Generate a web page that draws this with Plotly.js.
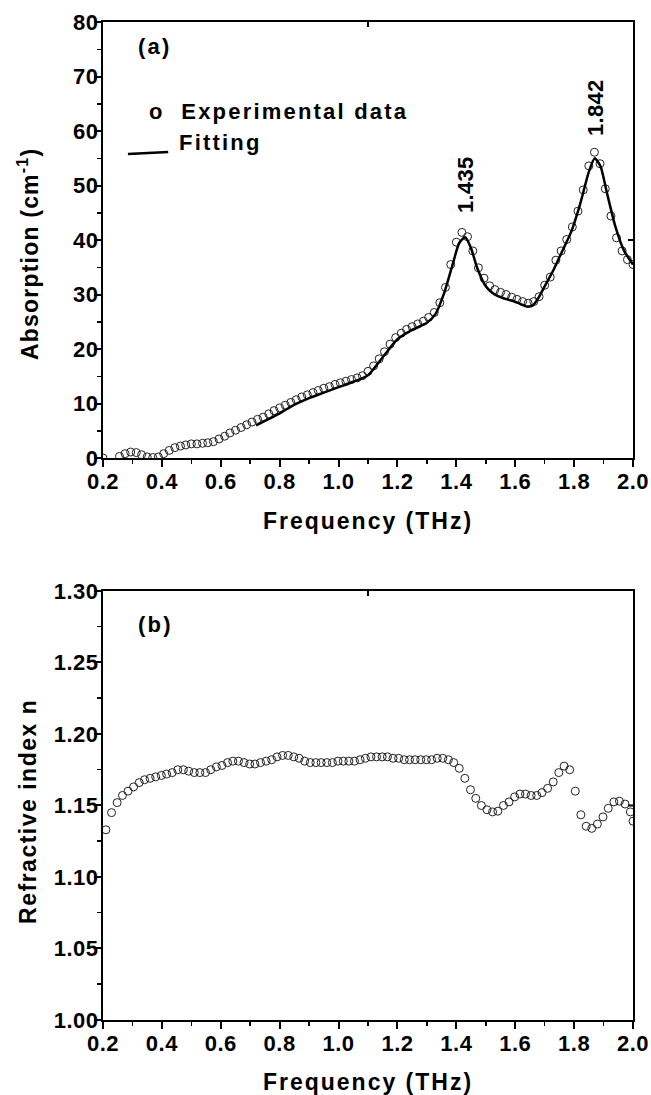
<!DOCTYPE html>
<html>
<head>
<meta charset="utf-8">
<script src="https://cdn.plot.ly/plotly-3.0.1.min.js"></script>
<style>
html,body{margin:0;padding:0;background:#fff;}
#chart{width:651px;height:1095px;}
.xtick text, .x2tick text, .ytick text, .y2tick text {letter-spacing:0.5px;}
.xtitle, .x2title {letter-spacing:2px;}
.annotation-text {letter-spacing:2.2px;}
.annotation-text[data-unformatted="1.435"], .annotation-text[data-unformatted="1.842"] {letter-spacing:0.3px;}
.annotation-text[data-unformatted^="Absorption"] {letter-spacing:1.2px;}
.annotation-text[data-unformatted^="Refractive"] {letter-spacing:1.5px;}
</style>
</head>
<body>
<div id="chart"></div>
<script>
// ---- Panel (a): absorption ----
const freqA = [0.200,0.219,0.238,0.256,0.275,0.294,0.313,0.331,0.350,0.369,0.388,0.406,0.425,0.444,0.463,0.481,0.500,0.519,0.538,0.556,0.575,0.594,0.613,0.631,0.650,0.669,0.688,0.706,0.725,0.744,0.763,0.781,0.800,0.819,0.838,0.856,0.875,0.894,0.913,0.931,0.950,0.969,0.988,1.006,1.025,1.044,1.063,1.081,1.100,1.119,1.138,1.156,1.175,1.194,1.213,1.231,1.250,1.269,1.288,1.306,1.325,1.344,1.363,1.381,1.400,1.419,1.438,1.456,1.475,1.494,1.513,1.531,1.550,1.569,1.588,1.606,1.625,1.644,1.663,1.681,1.700,1.719,1.738,1.756,1.775,1.794,1.813,1.831,1.850,1.869,1.888,1.906,1.925,1.944,1.963,1.981,2.000];
const absorption = [0.0,-1.0,-1.0,0.3,0.8,1.1,1.0,0.6,0.2,0.1,0.2,0.8,1.4,1.9,2.2,2.4,2.6,2.6,2.7,2.8,3.0,3.5,4.0,4.6,5.1,5.6,6.1,6.6,7.1,7.5,8.1,8.7,9.2,9.7,10.2,10.7,11.2,11.6,12.0,12.4,12.8,13.1,13.5,13.8,14.1,14.4,14.7,15.1,15.9,16.9,18.2,19.5,20.9,22.1,22.9,23.6,24.1,24.6,25.1,25.8,26.7,28.5,31.3,35.5,39.6,41.4,40.6,38.0,34.9,33.0,31.6,30.9,30.4,30.0,29.5,29.1,28.7,28.4,28.7,29.6,31.7,33.2,36.3,38.0,40.1,42.4,45.3,49.2,53.6,56.1,54.0,49.4,44.4,40.4,38.0,36.4,35.5];

const fitFreq = [0.72,0.75,0.80,0.85,0.90,0.95,1.00,1.05,1.10,1.15,1.20,1.25,1.30,1.33,1.36,1.39,1.41,1.43,1.45,1.47,1.50,1.53,1.56,1.60,1.64,1.66,1.68,1.70,1.73,1.76,1.79,1.82,1.85,1.87,1.89,1.91,1.94,1.97,2.00];
const fitAbs  = [6.0,6.8,8.2,9.8,11.0,12.0,13.0,14.0,15.2,18.5,21.8,23.5,24.8,26.5,30.5,36.0,39.5,40.5,38.5,35.0,31.5,30.0,29.3,28.7,27.8,28.0,29.5,31.5,34.5,38.0,41.5,46.5,52.5,55.0,53.5,49.0,42.5,38.0,35.5];

// ---- Panel (b): refractive index ----
const freqB = [0.210,0.229,0.248,0.266,0.285,0.304,0.323,0.341,0.360,0.379,0.398,0.416,0.435,0.454,0.473,0.491,0.510,0.529,0.548,0.566,0.585,0.604,0.623,0.641,0.660,0.679,0.698,0.716,0.735,0.754,0.773,0.791,0.810,0.829,0.848,0.866,0.885,0.904,0.923,0.941,0.960,0.979,0.998,1.016,1.035,1.054,1.073,1.091,1.110,1.129,1.148,1.166,1.185,1.204,1.223,1.241,1.260,1.279,1.298,1.316,1.335,1.354,1.373,1.391,1.410,1.429,1.448,1.466,1.485,1.504,1.523,1.541,1.560,1.579,1.598,1.616,1.635,1.654,1.673,1.691,1.710,1.729,1.748,1.766,1.785,1.804,1.823,1.841,1.860,1.879,1.898,1.916,1.935,1.954,1.973,1.991,2.000];
const refIndex = [1.133,1.145,1.152,1.157,1.160,1.163,1.166,1.168,1.169,1.170,1.171,1.172,1.173,1.175,1.175,1.174,1.173,1.173,1.173,1.175,1.177,1.178,1.180,1.181,1.181,1.180,1.179,1.179,1.180,1.181,1.182,1.184,1.185,1.185,1.184,1.183,1.181,1.180,1.180,1.180,1.180,1.180,1.181,1.181,1.181,1.181,1.182,1.183,1.184,1.184,1.184,1.184,1.183,1.183,1.182,1.182,1.182,1.182,1.182,1.182,1.183,1.183,1.182,1.180,1.176,1.169,1.161,1.155,1.150,1.147,1.1455,1.146,1.150,1.1525,1.156,1.158,1.158,1.157,1.157,1.159,1.162,1.1665,1.173,1.1775,1.175,1.160,1.1435,1.1355,1.134,1.137,1.142,1.148,1.1525,1.153,1.151,1.1455,1.139];

const xTickVals = [0.2,0.4,0.6,0.8,1.0,1.2,1.4,1.6,1.8,2.0];
const xTickText = ["0.2","0.4","0.6","0.8","1.0","1.2","1.4","1.6","1.8","2.0"];
const peakLabels = ["1.435","1.842"];
const peakPos = [[1.433, 41.4],[1.875, 56.1]];
const yTitleA = "Absorption (cm<sup>-1</sup>)";
const yTitleB = "Refractive index n";

const FONT = "Liberation Sans, Arial, sans-serif";
const tickFont = {family: FONT, size: 22, color: "#000", weight: "bold"};
const titleFont = {family: FONT, size: 23, color: "#000", weight: "bold"};
const annFont = {family: FONT, size: 22, color: "#000", weight: "bold"};
const markerStyle = {symbol: "circle-open", size: 8, color: "#222", line: {width: 1, color: "#222"}};

const traces = [
  {x: freqA, y: absorption, xaxis: "x", yaxis: "y", mode: "markers", marker: markerStyle, showlegend: false, cliponaxis: true},
  {x: fitFreq, y: fitAbs, xaxis: "x", yaxis: "y", mode: "lines", line: {color: "#000", width: 2.5, shape: "spline", smoothing: 0.6}, showlegend: false},
  {x: freqB, y: refIndex, xaxis: "x2", yaxis: "y2", mode: "markers", marker: markerStyle, showlegend: false, cliponaxis: true}
];

function xAxis(anchor) {
  return {
    anchor: anchor, domain: [0, 1], range: [0.2, 2.0], autorange: false,
    tickmode: "array", tickvals: xTickVals, ticktext: xTickText,
    ticks: "outside", ticklen: 7, tickwidth: 2, tickcolor: "#000",
    ticklabelstandoff: -4,
    minor: {dtick: 0.1, tick0: 0.2, ticks: "outside", ticklen: 4, tickwidth: 1.5, tickcolor: "#000"},
    showline: true, linewidth: 2, linecolor: "#000", mirror: true,
    showgrid: false, zeroline: false, tickfont: tickFont,
    title: {text: "Frequency (THz)", font: titleFont, standoff: 19}
  };
}

function yAxisCommon() {
  return {
    ticks: "outside", ticklen: 7, tickwidth: 2, tickcolor: "#000",
    ticklabelstandoff: -9,
    showline: true, linewidth: 2, linecolor: "#000", mirror: true,
    showgrid: false, zeroline: false, tickfont: tickFont
  };
}

const layout = {
  width: 651, height: 1095,
  margin: {l: 103, r: 18, t: 22, b: 75},
  paper_bgcolor: "#fff", plot_bgcolor: "#fff",
  showlegend: false,
  xaxis: xAxis("y"),
  xaxis2: xAxis("y2"),
  yaxis: Object.assign(yAxisCommon(), {
    anchor: "x", domain: [0.5631, 1], range: [0, 80], autorange: false,
    dtick: 10, tick0: 0,
    minor: {dtick: 5, ticks: "outside", ticklen: 4, tickwidth: 1.5, tickcolor: "#000"}
  }),
  yaxis2: Object.assign(yAxisCommon(), {
    anchor: "x2", domain: [0, 0.4299], range: [1.0, 1.3], autorange: false,
    dtick: 0.05, tick0: 1.0, tickformat: ".2f",
    minor: {dtick: 0.025, ticks: "outside", ticklen: 4, tickwidth: 1.5, tickcolor: "#000"}
  }),
  annotations: [
    {xref: "x domain", yref: "y domain", x: -0.1415, y: 0.468, text: yTitleA, showarrow: false, textangle: -90, xanchor: "center", yanchor: "middle", font: titleFont},
    {xref: "x2 domain", yref: "y2 domain", x: -0.1415, y: 0.485, text: yTitleB, showarrow: false, textangle: -90, xanchor: "center", yanchor: "middle", font: titleFont},
    {xref: "x domain", yref: "y domain", x: 0.062, y: 0.943, text: "(a)", showarrow: false, xanchor: "left", yanchor: "middle", align: "left", font: annFont},
    {xref: "x domain", yref: "y domain", x: 0.083, y: 0.794, text: "o  Experimental data", showarrow: false, xanchor: "left", yanchor: "middle", align: "left", font: annFont},
    {xref: "x domain", yref: "y domain", x: 0.140, y: 0.7225, text: "Fitting", showarrow: false, xanchor: "left", yanchor: "middle", align: "left", font: annFont},
    {xref: "x", yref: "y", x: peakPos[0][0], y: peakPos[0][1], text: peakLabels[0], showarrow: false, textangle: -90, xanchor: "center", yanchor: "bottom", yshift: 17, font: annFont},
    {xref: "x", yref: "y", x: peakPos[1][0], y: peakPos[1][1], text: peakLabels[1], showarrow: false, textangle: -90, xanchor: "center", yanchor: "bottom", yshift: 14, font: annFont},
    {xref: "x2 domain", yref: "y2 domain", x: 0.062, y: 0.921, text: "(b)", showarrow: false, xanchor: "left", yanchor: "middle", align: "left", font: annFont}
  ],
  shapes: [
    {type: "line", xref: "x domain", yref: "y domain", x0: 0.047, x1: 0.123, y0: 0.697, y1: 0.702, line: {color: "#000", width: 2.5}},
    {type: "line", xref: "x", yref: "y domain", x0: 1.1, x1: 1.1, ysizemode: "pixel", yanchor: 1, y0: 0, y1: -5, line: {color: "#000", width: 2}},
    {type: "line", xref: "x domain", yref: "y", y0: 40, y1: 40, xsizemode: "pixel", xanchor: 1, x0: 0, x1: -5, line: {color: "#000", width: 2}},
    {type: "line", xref: "x2", yref: "y2 domain", x0: 1.1, x1: 1.1, ysizemode: "pixel", yanchor: 1, y0: 0, y1: -5, line: {color: "#000", width: 2}},
    {type: "line", xref: "x2 domain", yref: "y2", y0: 1.15, y1: 1.15, xsizemode: "pixel", xanchor: 1, x0: 0, x1: -5, line: {color: "#000", width: 2}}
  ]
};

Plotly.newPlot("chart", traces, layout, {staticPlot: true, displayModeBar: false});
</script>
</body>
</html>
